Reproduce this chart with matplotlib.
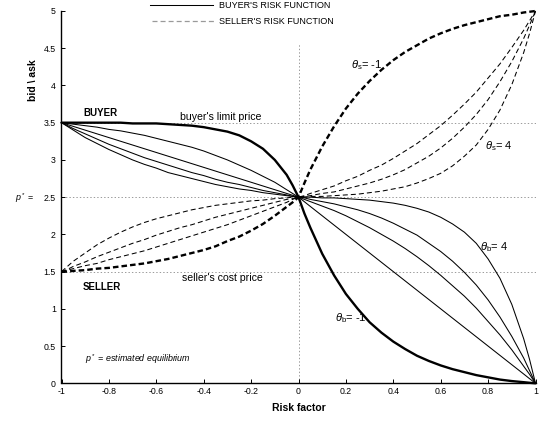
import matplotlib
matplotlib.use('Agg')
import matplotlib.pyplot as plt
from matplotlib.lines import Line2D

plt.rcParams['font.family'] = ['Liberation Sans', 'DejaVu Sans']
plt.rcParams['mathtext.fontset'] = 'custom'
plt.rcParams['mathtext.rm'] = 'Liberation Sans'
plt.rcParams['mathtext.it'] = 'Liberation Sans:italic'
plt.rcParams['lines.scale_dashes'] = False

# ---------------- data ----------------
risk = [-1, -0.975, -0.95, -0.9, -0.85, -0.8, -0.75, -0.7, -0.65, -0.6, -0.55, -0.5,
        -0.45, -0.4, -0.35, -0.3, -0.25, -0.2, -0.15, -0.1, -0.05, -0.025, 0,
        0.025, 0.05, 0.1, 0.15, 0.2, 0.25, 0.3, 0.35, 0.4, 0.45, 0.5, 0.55, 0.6,
        0.65, 0.7, 0.75, 0.8, 0.85, 0.9, 0.95, 0.975, 1]

# buyer's risk functions (theta_b = -1 is the bold one, theta_b = 4 the outermost)
buyer_theta_m1 = [3.50, 3.50, 3.50, 3.50, 3.50, 3.50, 3.50, 3.49, 3.49, 3.49, 3.48, 3.47,
                  3.46, 3.44, 3.41, 3.38, 3.33, 3.25, 3.15, 3.00, 2.80, 2.66, 2.50,
                  2.28, 2.09, 1.74, 1.45, 1.20, 1.00, 0.82, 0.68, 0.56, 0.46, 0.37, 0.30, 0.24,
                  0.19, 0.15, 0.11, 0.08, 0.05, 0.03, 0.015, 0.007, 0.00]
buyer_b2 = [3.50, 3.49, 3.48, 3.46, 3.44, 3.41, 3.39, 3.36, 3.33, 3.29, 3.25, 3.21,
            3.17, 3.12, 3.06, 3.00, 2.93, 2.86, 2.78, 2.70, 2.60, 2.55, 2.50,
            2.438, 2.375, 2.25, 2.125, 2.0, 1.875, 1.75, 1.625, 1.5, 1.375, 1.25, 1.125, 1.0,
            0.875, 0.75, 0.625, 0.5, 0.375, 0.25, 0.125, 0.062, 0.0]
buyer_b3 = [3.5, 3.475, 3.45, 3.4, 3.35, 3.3, 3.25, 3.2, 3.15, 3.1, 3.05, 3.0,
            2.95, 2.9, 2.85, 2.8, 2.75, 2.7, 2.65, 2.6, 2.55, 2.525, 2.5,
            2.47, 2.44, 2.38, 2.32, 2.25, 2.17, 2.09, 2.00, 1.91, 1.81, 1.70, 1.58, 1.45,
            1.31, 1.17, 1.01, 0.83, 0.65, 0.45, 0.23, 0.12, 0.00]
buyer_b4 = [3.50, 3.46, 3.42, 3.35, 3.28, 3.21, 3.15, 3.09, 3.03, 2.98, 2.93, 2.88,
            2.83, 2.79, 2.74, 2.70, 2.67, 2.63, 2.59, 2.56, 2.53, 2.51, 2.50,
            2.49, 2.47, 2.44, 2.41, 2.37, 2.33, 2.28, 2.22, 2.15, 2.07, 1.99, 1.88, 1.77,
            1.64, 1.49, 1.32, 1.12, 0.89, 0.63, 0.34, 0.17, 0.00]
buyer_theta_4 = [3.50, 3.45, 3.40, 3.30, 3.22, 3.14, 3.07, 3.00, 2.94, 2.89, 2.83, 2.79,
                 2.75, 2.71, 2.67, 2.64, 2.61, 2.59, 2.56, 2.54, 2.52, 2.51, 2.50,
                 2.50, 2.50, 2.49, 2.49, 2.48, 2.47, 2.46, 2.44, 2.42, 2.39, 2.35, 2.30, 2.23,
                 2.14, 2.03, 1.88, 1.67, 1.41, 1.06, 0.60, 0.32, 0.00]

# seller's risk functions (theta_s = -1 is the bold one, theta_s = 4 the outermost)
seller_theta_m1 = [1.50, 1.50, 1.51, 1.52, 1.54, 1.55, 1.57, 1.59, 1.61, 1.64, 1.67, 1.71,
                   1.75, 1.79, 1.84, 1.91, 1.97, 2.05, 2.14, 2.25, 2.37, 2.43, 2.50,
                   2.69, 2.87, 3.18, 3.45, 3.69, 3.89, 4.06, 4.21, 4.34, 4.45, 4.54, 4.63, 4.70,
                   4.76, 4.81, 4.85, 4.89, 4.93, 4.95, 4.98, 4.99, 5.00]
seller_s2 = [1.50, 1.52, 1.54, 1.58, 1.61, 1.66, 1.70, 1.74, 1.78, 1.83, 1.88, 1.93,
             1.98, 2.03, 2.08, 2.13, 2.19, 2.25, 2.31, 2.37, 2.43, 2.47, 2.50,
             2.52, 2.55, 2.60, 2.65, 2.72, 2.78, 2.86, 2.93, 3.02, 3.12, 3.22, 3.34, 3.46,
             3.60, 3.75, 3.91, 4.10, 4.29, 4.51, 4.74, 4.87, 5.00]
seller_s3 = [1.50, 1.53, 1.57, 1.63, 1.70, 1.76, 1.82, 1.88, 1.93, 1.99, 2.04, 2.09,
             2.13, 2.18, 2.23, 2.27, 2.31, 2.35, 2.39, 2.43, 2.47, 2.48, 2.50,
             2.51, 2.52, 2.55, 2.57, 2.61, 2.65, 2.69, 2.74, 2.80, 2.87, 2.96, 3.05, 3.16,
             3.29, 3.44, 3.61, 3.81, 4.05, 4.32, 4.63, 4.81, 5.00]
seller_theta_4 = [1.50, 1.57, 1.64, 1.75, 1.86, 1.95, 2.03, 2.10, 2.16, 2.21, 2.25, 2.29,
                  2.33, 2.36, 2.39, 2.41, 2.43, 2.45, 2.46, 2.48, 2.49, 2.50, 2.50,
                  2.50, 2.51, 2.51, 2.52, 2.53, 2.54, 2.56, 2.58, 2.61, 2.64, 2.69, 2.75, 2.82,
                  2.92, 3.05, 3.20, 3.41, 3.67, 4.01, 4.44, 4.70, 5.00]

reference_prices = [1.5, 2.5, 3.5]      # seller's cost, p*, buyer's limit
equilibrium_risk = 0
x_ticks = [-1, -0.8, -0.6, -0.4, -0.2, 0, 0.2, 0.4, 0.6, 0.8, 1]
x_tick_labels = ['-1', '-0.8', '-0.6', '-0.4', '-0.2', '0', '0.2', '0.4', '0.6', '0.8', '1']
y_ticks = [0, 0.5, 1, 1.5, 2, 2.5, 3, 3.5, 4, 4.5, 5]
y_tick_labels = ['0', '0.5', '1', '1.5', '2', '2.5', '3', '3.5', '4', '4.5', '5']

# ---------------- figure ----------------
W, H = 547, 423
fig = plt.figure(figsize=(W / 100, H / 100), dpi=100)
ax = fig.add_axes([61.5 / W, 39.7 / H, 474 / W, 372.3 / H])

# reference dotted lines
ax.hlines(reference_prices, -1, 1, colors='#8a8a8a', linestyles=(0, (1, 1.5)), lw=0.6, zorder=1)
ax.vlines(equilibrium_risk, 0, 4.57, colors='#8a8a8a', linestyles=(0, (1, 1.5)), lw=0.6, zorder=1)

for ys in [buyer_b2, buyer_b3, buyer_b4, buyer_theta_4]:
    ax.plot(risk, ys, color='black', lw=0.75, clip_on=False, zorder=3)
ax.plot(risk, buyer_theta_m1, color='black', lw=1.7, clip_on=False, zorder=4,
        solid_capstyle='round', solid_joinstyle='round')

for ys in [seller_s2, seller_s3, seller_theta_4]:
    ax.plot(risk, ys, color='black', lw=0.75, dashes=(3.6, 2.2), clip_on=False, zorder=3)
ax.plot(risk, seller_theta_m1, color='black', lw=1.7, dashes=(4.0, 2.2), clip_on=False, zorder=4)

ax.set_xlim(-1, 1)
ax.set_ylim(0, 5)
ax.set_xticks(x_ticks)
ax.set_xticklabels(x_tick_labels)
ax.set_yticks(y_ticks)
ax.set_yticklabels(y_tick_labels)
ax.tick_params(direction='in', length=3, width=0.7, labelsize=6.3, color='black')
ax.tick_params(axis='x', pad=3)
ax.tick_params(axis='y', pad=4)
for s in ['top', 'right']:
    ax.spines[s].set_visible(False)
for s in ['left', 'bottom']:
    ax.spines[s].set_linewidth(1.0)

ax.set_xlabel('Risk factor', fontsize=7.5, fontweight='bold', va='center')
ax.xaxis.set_label_coords(0.5, -0.066)
ax.set_ylabel('bid \\ ask', fontsize=7.5, fontweight='bold', va='center', ha='center')
ax.yaxis.set_label_coords(-0.06, 0.815)

# annotations
ax.text(-0.909, 3.63, 'BUYER', fontsize=7, fontweight='bold', va='center', ha='left')
ax.text(-0.909, 1.29, 'SELLER', fontsize=7, fontweight='bold', va='center', ha='left')
ax.text(-0.50, 3.58, "buyer's limit price", fontsize=7.6, va='center', ha='left')
ax.text(-0.49, 1.415, "seller's cost price", fontsize=7.6, va='center', ha='left')
ax.text(-0.90, 0.33, r'$p^*$ = estimated equilibrium', fontsize=6.4, style='italic',
        va='center', ha='left')
ax.text(-1.196, 2.48, r'$p^*$ =', fontsize=6.4, va='center', ha='left')

ax.text(0.222, 4.28, r'$\theta_{\mathrm{s}}$= -1', fontsize=8, va='center', ha='left')
ax.text(0.787, 3.19, r'$\theta_{\mathrm{s}}$= 4', fontsize=8, va='center', ha='left')
ax.text(0.766, 1.83, r'$\theta_{\mathrm{b}}$= 4', fontsize=8, va='center', ha='left')
ax.text(0.154, 0.88, r'$\theta_{\mathrm{b}}$= -1', fontsize=8, va='center', ha='left')

# legend drawn at the top of the figure
fig.add_artist(Line2D([150 / W, 213 / W], [1 - 5 / H, 1 - 5 / H], color='black', lw=0.75))
fig.add_artist(Line2D([152 / W, 214 / W], [1 - 21 / H, 1 - 21 / H], color='#9a9a9a', lw=0.9,
                      dashes=(3.6, 2.2)))
fig.text(219 / W, 1 - 5 / H, "BUYER'S RISK FUNCTION", fontsize=6.5, va='center', ha='left')
fig.text(219 / W, 1 - 21 / H, "SELLER'S RISK FUNCTION", fontsize=6.5, va='center', ha='left')

fig.savefig('out.png', dpi=100)
